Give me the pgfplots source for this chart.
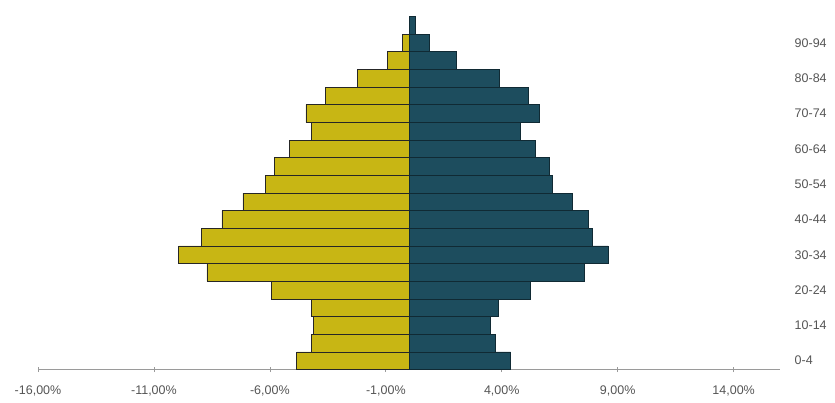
\documentclass[border=0pt]{standalone}
\usepackage{pgfplots}
\pgfplotsset{compat=1.18}
\usepackage{pgfplotstable}
\usepackage{fontspec}
\setmainfont{Liberation Sans}

\definecolor{pyrYellow}{HTML}{C8B614}
\definecolor{pyrTeal}{HTML}{1D4D5E}
\definecolor{axgray}{HTML}{9A9A9A}
\definecolor{lblgray}{HTML}{555555}

% age group index (0 = 0-4, ..., 19 = 95-99), share of population in %
\pgfplotstableread{
a v
0 -4.84
1 -4.21
2 -4.12
3 -4.21
4 -5.92
5 -8.72
6 -9.94
7 -8.94
8 -8.07
9 -7.16
10 -6.21
11 -5.82
12 -5.17
13 -4.21
14 -4.45
15 -3.62
16 -2.23
17 -0.92
18 -0.29
}\leftside

\pgfplotstableread{
a v
0 4.38
1 3.71
2 3.52
3 3.85
4 5.24
5 7.54
6 8.59
7 7.90
8 7.72
9 7.04
10 6.18
11 6.06
12 5.46
13 4.81
14 5.60
15 5.13
16 3.91
17 2.04
18 0.86
19 0.29
}\rightside

\begin{document}
\begin{tikzpicture}
\begin{axis}[
  scale only axis,
  width=742pt, height=353pt,
  xmin=-16, xmax=16, ymin=-0.5, ymax=19.5,
  axis x line=bottom, axis y line=right,
  x axis line style={-, draw=axgray, line width=0.7pt},
  y axis line style={draw=none},
  xtick={-16,-11,-6,-1,4,9,14},
  xticklabels={{-16,00\%},{-11,00\%},{-6,00\%},{-1,00\%},{4,00\%},{9,00\%},{14,00\%}},
  ytick={0,2,...,18},
  yticklabels={0-4,10-14,20-24,30-34,40-44,50-54,60-64,70-74,80-84,90-94},
  tick align=center,
  x tick style={draw=axgray, line width=0.7pt},
  major tick length=5pt,
  y tick style={draw=none},
  ticklabel style={font=\fontsize{12.5}{14}\selectfont, text=lblgray},
  yticklabel style={anchor=west, inner sep=0pt, xshift=12pt},
  xticklabel style={anchor=north, inner sep=0pt, yshift=-14pt},
  clip=false,
]
\addplot[xbar, bar width=17.65pt, bar shift=0pt, fill=pyrYellow, draw=black!85, line width=0.6pt]
  table[x=v, y=a] {\leftside};
\addplot[xbar, bar width=17.65pt, bar shift=0pt, fill=pyrTeal, draw=pyrTeal!55!black, line width=0.6pt]
  table[x=v, y=a] {\rightside};
\end{axis}
\pgfresetboundingbox
\path ([shift={(-38pt,-32.5pt)}]current axis.south west) rectangle ++(835pt,402pt);
\end{tikzpicture}
\end{document}
